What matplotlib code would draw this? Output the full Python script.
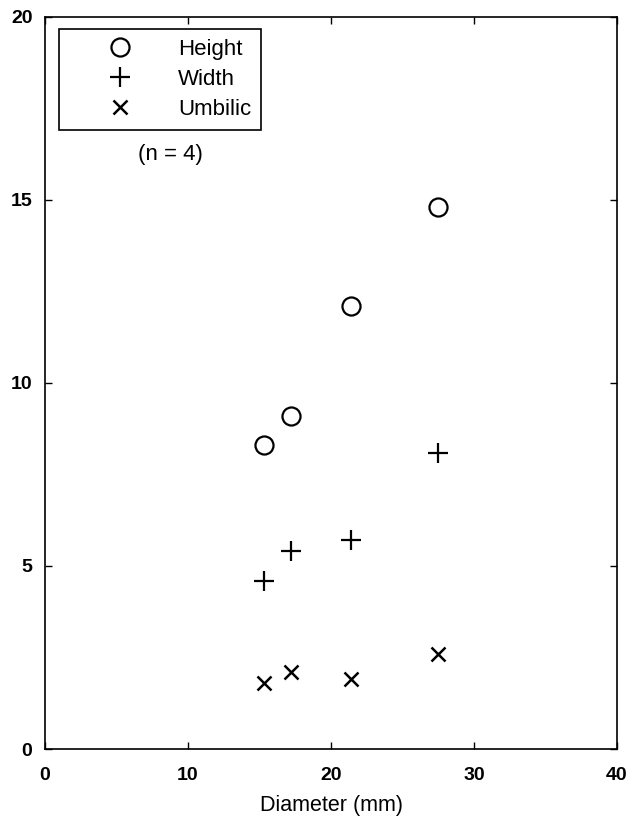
import matplotlib
matplotlib.use("Agg")
import matplotlib.pyplot as plt

plt.rcParams['font.family'] = ['Liberation Sans', 'DejaVu Sans']

diameter = [15.3, 17.2, 21.4, 27.5]
height = [8.3, 9.1, 12.1, 14.8]
width = [4.6, 5.4, 5.7, 8.1]
umbilic = [1.8, 2.1, 1.9, 2.6]
series_labels = ["Height", "Width", "Umbilic"]
x_ticks = [0, 10, 20, 30, 40]
y_ticks = [0, 5, 10, 15, 20]

fig = plt.figure(figsize=(6.34, 8.23), dpi=100)
ax = fig.add_axes([45/634, 74/823, 572/634, 732/823])

ax.plot(diameter, height, linestyle='none', marker='o', ms=13, mfc='none', mec='black', mew=1.6, label=series_labels[0])
ax.plot(diameter, width, linestyle='none', marker='+', ms=14, mec='black', mew=1.6, label=series_labels[1])
ax.plot(diameter, umbilic, linestyle='none', marker='x', ms=10, mec='black', mew=1.8, label=series_labels[2])

ax.set_xlim(0, 40)
ax.set_ylim(0, 20)
ax.set_xticks(x_ticks)
ax.set_yticks(y_ticks)
ax.tick_params(axis='both', direction='in', top=True, right=True, length=5, width=1, labelsize=14)
ax.tick_params(axis='x', pad=13)
ax.tick_params(axis='y', pad=9)
for lab in ax.get_xticklabels() + ax.get_yticklabels():
    lab.set_fontweight('bold')
for s in ax.spines.values():
    s.set_linewidth(1.2)

ax.set_xlabel("Diameter (mm)", fontsize=15.5, labelpad=8)

leg = ax.legend(loc='upper left', bbox_to_anchor=((59-45)/572, (749-29)/732), borderaxespad=0,
                fancybox=False, edgecolor='black', framealpha=1, fontsize=16,
                handlelength=4.6, handletextpad=0.3, labelspacing=0.4, borderpad=0.45)
leg.get_frame().set_linewidth(1.2)

ax.text((170-45)/572, (749-155)/732, "(n = 4)", transform=ax.transAxes, ha='center', va='center', fontsize=16)

fig.savefig("out.png", dpi=100)
